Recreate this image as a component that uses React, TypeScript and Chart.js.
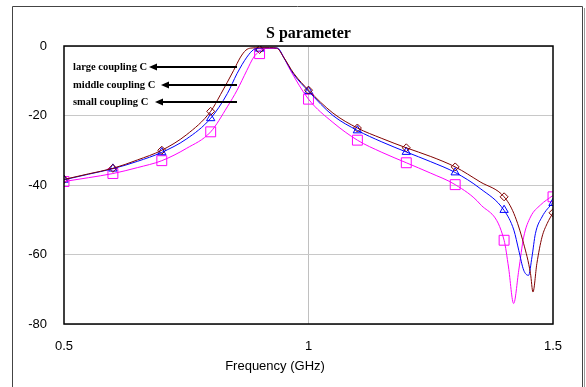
import React, { useEffect, useRef } from "react";
import { Chart, registerables } from "chart.js";

Chart.register(...registerables);

// ---------- data ----------
const markerFreqs = [0.5, 0.6, 0.7, 0.8, 0.9, 1.0, 1.1, 1.2, 1.3, 1.4, 1.5];
const largeMarkers = [-38.4, -35.2, -30.0, -18.8, -1.0, -12.7, -23.6, -29.3, -34.8, -43.4, -48.0];
const middleMarkers = [-38.5, -35.3, -30.6, -20.8, -0.8, -13.0, -24.3, -30.5, -36.4, -47.2, -45.2];
const smallMarkers = [-39.0, -36.7, -33.0, -24.7, -2.2, -15.3, -27.1, -33.6, -39.9, -55.9, -43.4];

const largeFreqs = [0.5, 0.55, 0.6, 0.65, 0.7, 0.75, 0.8, 0.82, 0.847, 0.861, 0.872, 0.882, 0.9, 0.92, 0.935, 0.949, 0.97, 1.0, 1.05, 1.1, 1.15, 1.2, 1.25, 1.3, 1.351, 1.4, 1.42, 1.44, 1.454, 1.459, 1.467, 1.4775, 1.488, 1.5];
const largeCurve = [-38.4, -36.8, -35.2, -32.8, -30.0, -25.6, -18.8, -14.0, -7.0, -3.2, -1.2, -0.6, -0.5, -0.5, -0.6, -3.2, -7.9, -12.7, -19.3, -23.6, -26.6, -29.3, -31.8, -34.8, -39.1, -43.4, -48.2, -56.9, -65.5, -70.8, -62.6, -55.0, -51.1, -48.0];

const middleFreqs = [0.5, 0.55, 0.6, 0.65, 0.7, 0.75, 0.8, 0.834, 0.854, 0.874, 0.888, 0.9, 0.92, 0.937, 0.95, 0.97, 1.0, 1.05, 1.1, 1.15, 1.2, 1.25, 1.3, 1.351, 1.4, 1.42, 1.43, 1.44, 1.45, 1.457, 1.464, 1.4775, 1.5];
const middleCurve = [-38.5, -36.9, -35.3, -33.2, -30.6, -26.8, -20.8, -13.7, -7.9, -3.2, -1.0, -0.6, -0.5, -0.6, -3.5, -8.2, -13.0, -20.0, -24.3, -27.6, -30.5, -33.3, -36.4, -41.0, -47.3, -53.0, -58.8, -64.5, -66.0, -60.7, -54.0, -49.2, -45.0];

const smallFreqs = [0.5, 0.55, 0.6, 0.65, 0.7, 0.75, 0.8, 0.834, 0.854, 0.874, 0.888, 0.898, 0.91, 0.935, 0.943, 0.963, 1.0, 1.05, 1.1, 1.15, 1.2, 1.25, 1.3, 1.351, 1.4, 1.409, 1.4195, 1.43, 1.44, 1.454, 1.474, 1.5];
const smallCurve = [-39.0, -37.9, -36.7, -35.0, -33.0, -29.5, -24.7, -17.5, -12.7, -7.0, -3.2, -1.7, -0.7, -0.7, -1.7, -7.0, -15.3, -22.0, -27.1, -30.6, -33.6, -36.6, -39.9, -45.5, -55.9, -63.6, -74.1, -64.5, -55.0, -49.2, -45.8, -43.0];

const xTicks = [0.5, 1, 1.5];
const yTicks = [0, -20, -40, -60, -80];
const annotations = ["large coupling C", "middle coupling C", "small coupling C"];

const BROWN = "#800000";
const BLUE = "#0000ff";
const MAGENTA = "#ff00ff";

const pairs = (xs: number[], ys: number[]) => xs.map((x, i) => ({ x, y: ys[i] }));

export default function App() {
  const ref = useRef<HTMLCanvasElement | null>(null);
  useEffect(() => {
    const canvas = ref.current!;
    const deco = {
      id: "deco",
      afterDraw(chart: any) {
        const ctx = chart.ctx as CanvasRenderingContext2D;
        const a = chart.chartArea;
        ctx.save();
        // outer frame
        ctx.strokeStyle = "#444";
        ctx.lineWidth = 1;
        ctx.beginPath();
        ctx.moveTo(12.5, 387);
        ctx.lineTo(12.5, 6.5);
        ctx.lineTo(582.5, 6.5);
        ctx.lineTo(582.5, 387);
        ctx.stroke();
        ctx.strokeStyle = "#999";
        ctx.beginPath();
        ctx.moveTo(584.5, 8);
        ctx.lineTo(584.5, 387);
        ctx.stroke();
        // plot border
        ctx.strokeStyle = "#000";
        ctx.lineWidth = 1.5;
        ctx.strokeRect(a.left, a.top, a.right - a.left, a.bottom - a.top);
        // title
        ctx.fillStyle = "#000";
        ctx.font = "bold 16px 'Liberation Serif'";
        ctx.textAlign = "center";
        ctx.textBaseline = "middle";
        ctx.fillText("S parameter", (a.left + a.right) / 2, 34);
        // x title
        ctx.font = "13px 'Liberation Sans'";
        ctx.fillText("Frequency (GHz)", 275, 366);
        // annotations
        ctx.font = "bold 10.5px 'Liberation Serif'";
        ctx.textAlign = "left";
        const ys = [67, 85, 102];
        const tips = [149, 161, 155];
        annotations.forEach((t, i) => {
          const y = ys[i];
          ctx.fillText(t, 73, y);
          ctx.lineWidth = 2;
          ctx.beginPath();
          ctx.moveTo(237, y);
          ctx.lineTo(tips[i] + 6, y);
          ctx.stroke();
          ctx.beginPath();
          ctx.moveTo(tips[i], y);
          ctx.lineTo(tips[i] + 8, y - 3.5);
          ctx.lineTo(tips[i] + 8, y + 3.5);
          ctx.closePath();
          ctx.fill();
        });
        ctx.restore();
      },
    };
    const lineDs = (label: string, xs: number[], ys: number[], color: string) => ({
      label,
      data: pairs(xs, ys),
      borderColor: color,
      borderWidth: 1,
      pointRadius: 0,
      cubicInterpolationMode: "monotone" as const,
      fill: false,
    });
    const markDs = (label: string, ys: number[], color: string, style: string, r: number) => ({
      label,
      data: pairs(markerFreqs, ys),
      showLine: false,
      borderColor: color,
      backgroundColor: "transparent",
      pointBorderColor: color,
      pointBackgroundColor: "rgba(0,0,0,0)",
      pointBorderWidth: 1,
      pointStyle: style,
      pointRadius: r,
    });
    const chart = new Chart(canvas, {
      type: "line",
      data: {
        datasets: [
          lineDs("large", largeFreqs, largeCurve, BROWN),
          lineDs("middle", middleFreqs, middleCurve, BLUE),
          lineDs("small", smallFreqs, smallCurve, MAGENTA),
          markDs("largeM", largeMarkers, BROWN, "rectRot", 4),
          markDs("middleM", middleMarkers, BLUE, "triangle", 4.8),
          markDs("smallM", smallMarkers, MAGENTA, "rect", 7),
        ] as any,
      },
      options: {
        animation: false,
        responsive: false,
        devicePixelRatio: 1,
        layout: { padding: { top: 46, right: 33, bottom: 0, left: 0 } },
        plugins: { legend: { display: false }, tooltip: { enabled: false }, title: { display: false } },
        scales: {
          x: {
            type: "linear",
            min: 0.5,
            max: 1.5,
            afterBuildTicks: (s: any) => { s.ticks = xTicks.map((v) => ({ value: v })); },
            afterFit: (s: any) => { s.height = 63; },
            ticks: { font: { family: "'Liberation Sans'", size: 13 }, color: "#000", padding: 15, callback: (v: any) => String(v) },
            grid: { drawTicks: false, color: (c: any) => (c.tick && c.tick.value === 1 ? "#c0c0c0" : "rgba(0,0,0,0)") },
            border: { display: false },
          },
          y: {
            type: "linear",
            min: -80,
            max: 0,
            afterBuildTicks: (s: any) => { s.ticks = yTicks.map((v) => ({ value: v })); },
            afterFit: (s: any) => { s.width = 64; },
            ticks: { font: { family: "'Liberation Sans'", size: 13 }, color: "#000", padding: 17, callback: (v: any) => String(v) },
            grid: { drawTicks: false, color: "#c8c8c8" },
            border: { display: false },
          },
        },
      },
      plugins: [deco],
    });
    return () => chart.destroy();
  }, []);
  return (
    <div style={{ position: "absolute", left: 0, top: 0, width: 586, height: 387, background: "#fff" }}>
      <canvas ref={ref} width={586} height={387} style={{ width: 586, height: 387 }} />
    </div>
  );
}
